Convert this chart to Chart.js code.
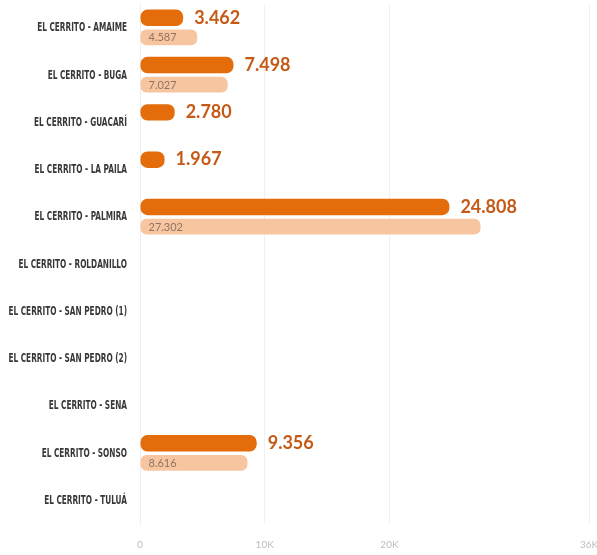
<!DOCTYPE html>
<html>
<head>
<meta charset="utf-8">
<script src="https://cdn.jsdelivr.net/npm/chart.js@4/dist/chart.umd.min.js"></script>
<style>
html,body{margin:0;padding:0;background:#fff;}
#wrap{width:597px;height:555px;position:relative;}
</style>
</head>
<body>
<div id="wrap"><canvas id="c"></canvas></div>
<script>
const categories = [
  'EL CERRITO - AMAIME',
  'EL CERRITO - BUGA',
  'EL CERRITO - GUACARÍ',
  'EL CERRITO - LA PAILA',
  'EL CERRITO - PALMIRA',
  'EL CERRITO - ROLDANILLO',
  'EL CERRITO - SAN PEDRO (1)',
  'EL CERRITO - SAN PEDRO (2)',
  'EL CERRITO - SENA',
  'EL CERRITO - SONSO',
  'EL CERRITO - TULUÁ'
];
const seriesA = [3462, 7498, 2780, 1967, 24808, 0, 0, 0, 0, 9356, 0];
const seriesB = [4587, 7027, 0, 0, 27302, 0, 0, 0, 0, 8616, 0];
const tickValues = [0, 10000, 20000, 36000];
const tickLabels = ['0', '10K', '20K', '36K'];

const fmt = v => v.toLocaleString('de-DE');

// condensed category labels drawn on the y scale's tick positions
const catLabelPlugin = {
  id: 'catLabels',
  afterDraw(chart) {
    const ctx = chart.ctx;
    const y = chart.scales.y;
    const right = y.right - 13;
    const sx = 0.68;
    ctx.save();
    ctx.font = "bold 12px 'DejaVu Sans Condensed', 'DejaVu Sans'";
    ctx.fillStyle = '#383838';
    ctx.textAlign = 'right';
    ctx.textBaseline = 'middle';
    y.ticks.forEach((t, i) => {
      const py = y.getPixelForTick(i);
      ctx.save();
      ctx.translate(right, py);
      ctx.scale(sx, 1);
      ctx.fillText(categories[i], 0, 0.5);
      ctx.restore();
    });
    ctx.restore();
  }
};

const labelPlugin = {
  id: 'valueLabels',
  afterDatasetsDraw(chart) {
    const ctx = chart.ctx;
    ctx.save();
    const metaA = chart.getDatasetMeta(0);
    metaA.data.forEach((bar, i) => {
      const v = seriesA[i];
      if (!v) return;
      ctx.font = '700 18px Lato';
      ctx.fillStyle = '#c55a17';
      ctx.textAlign = 'left';
      ctx.textBaseline = 'middle';
      ctx.fillText(fmt(v), bar.x + 11, bar.y);
    });
    const metaB = chart.getDatasetMeta(1);
    metaB.data.forEach((bar, i) => {
      const v = seriesB[i];
      if (!v) return;
      ctx.font = '400 11px Lato';
      ctx.fillStyle = '#8f7462';
      ctx.textAlign = 'left';
      ctx.textBaseline = 'middle';
      ctx.fillText(fmt(v), bar.base + 8, bar.y + 0.5);
    });
    ctx.restore();
  }
};

new Chart(document.getElementById('c'), {
  type: 'bar',
  data: {
    labels: categories,
    datasets: [
      { data: seriesA, backgroundColor: '#e46c0a', borderRadius: 7, borderSkipped: false,
        categoryPercentage: 0.83, barPercentage: 0.84 },
      { data: seriesB, backgroundColor: '#f7c6a0', borderRadius: 6, borderSkipped: false,
        categoryPercentage: 0.83, barPercentage: 0.8 }
    ]
  },
  options: {
    indexAxis: 'y',
    responsive: true,
    maintainAspectRatio: false,
    animation: false,
    layout: { padding: { top: 4, right: 8, left: 0, bottom: 0 } },
    plugins: { legend: { display: false }, tooltip: { enabled: false } },
    scales: {
      x: {
        min: 0, max: 36000,
        afterBuildTicks(scale) { scale.ticks = tickValues.map(v => ({ value: v })); },
        afterFit(scale) { scale.height = 31; scale.paddingLeft = 0; scale.paddingRight = 0; },
        grid: { color: '#f0f0f0', drawTicks: false },
        border: { display: false },
        ticks: {
          padding: 15,
          color: '#bdbdbd',
          font: { family: 'Lato', size: 10 },
          callback: (v) => tickLabels[tickValues.indexOf(v)]
        }
      },
      y: {
        afterFit(scale) { scale.width = 140; scale.paddingTop = 0; scale.paddingBottom = 0; },
        grid: { display: false, drawTicks: false },
        border: { display: true, color: '#eeeeee' },
        ticks: { display: false }
      }
    }
  },
  plugins: [labelPlugin, catLabelPlugin]
});
</script>
</body>
</html>
